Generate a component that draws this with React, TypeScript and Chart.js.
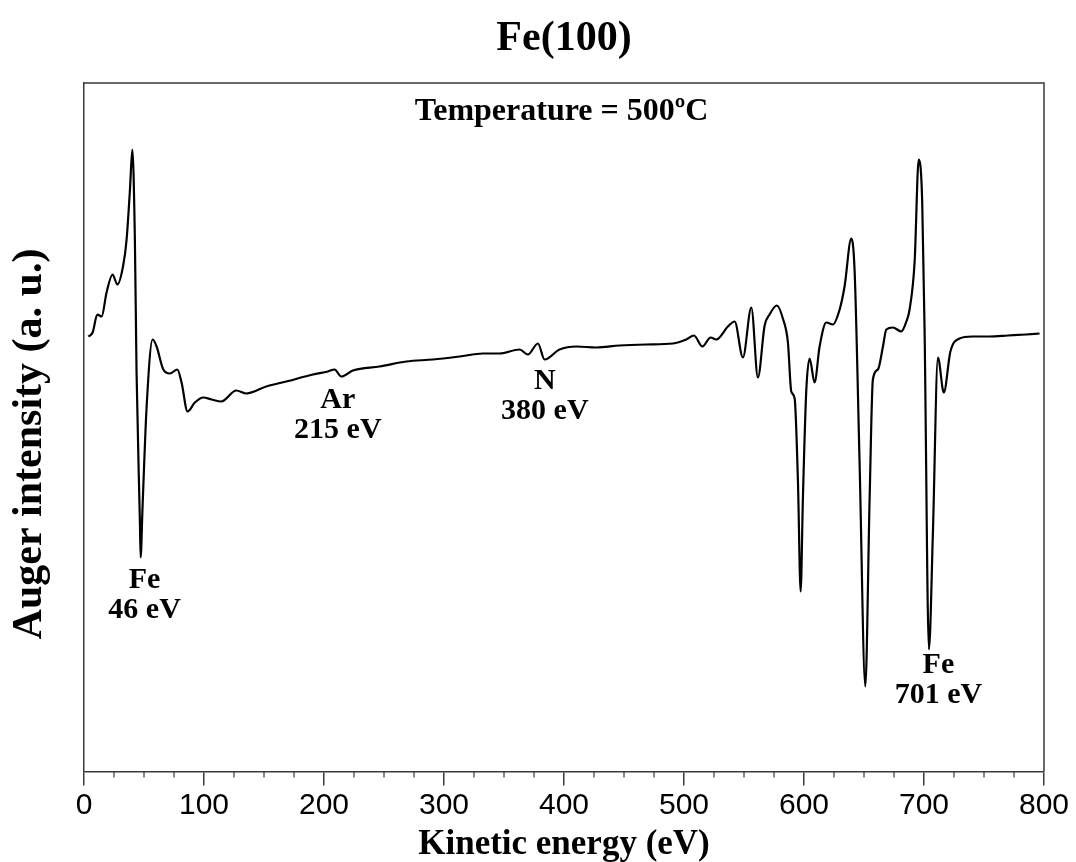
import React, { useEffect, useRef } from "react";
import { Chart, registerables } from "chart.js";

Chart.register(...registerables);

// Kinetic energy (eV) of each sampled point of the Auger spectrum
const energy: number[] = [
  3.6, 7.2, 11.1, 14.7, 18.8, 23.8, 27.8, 32.8, 35.5, 38.3, 40.3, 42.4, 43.8, 46.6, 47.2, 48.8,
  52.2, 57.2, 60.5, 66.1, 71.6, 77.8, 81.3, 86.3, 92.4, 99.4, 106.3, 114.4, 126.9, 135.3,
  151.9, 168.6, 190.8, 203.3, 208.8, 214.4, 224.1, 246.3, 268.6, 290.8, 313, 332.4, 346.3,
  363, 369.9, 378.3, 383.8, 396.3, 410.3, 426.9, 446.3, 468.6, 490.8, 501.9, 508.3, 515.3,
  522.2, 526.9, 536.6, 542.2, 549.1, 556.1, 561.6, 567.2, 571.3, 577.4, 582.4, 586.6, 589.4,
  592.2, 595, 597.2, 599.1, 601.9, 604.7, 608.8, 613, 618.6, 624.1, 629.7, 633.8, 639.4,
  642.2, 646.3, 651.1, 654.7, 657.4, 661.6, 665.8, 668.6, 674.1, 681.1, 685.3, 688, 692.2,
  695.6, 698.5, 700.5, 704.1, 707.4, 711.6, 716.5, 722, 729.7, 740, 754.7, 770, 785, 796.3,
];

// Auger intensity (a. u.) at each energy
const intensity: number[] = [
  4.35, 4.39, 4.57, 4.55, 4.79, 4.97, 4.87, 5.07, 5.32, 5.82, 6.22, 5.32, 3.99, 2.49, 2.14, 2.65,
  3.65, 4.32, 4.25, 4.02, 3.98, 4.02, 3.89, 3.6, 3.69, 3.74, 3.72, 3.7, 3.81, 3.78,
  3.85, 3.9, 3.97, 4.0, 4.02, 3.95, 4.01, 4.05, 4.1, 4.12, 4.15, 4.18, 4.18,
  4.22, 4.17, 4.28, 4.12, 4.22, 4.25, 4.24, 4.26, 4.27, 4.28, 4.32, 4.36, 4.25,
  4.34, 4.32, 4.45, 4.5, 4.14, 4.64, 3.94, 4.46, 4.57, 4.66, 4.53, 4.29, 3.8,
  3.73, 2.88, 1.8, 2.74, 3.81, 4.13, 3.89, 4.25, 4.49, 4.47, 4.62, 4.85, 5.33,
  5.0, 3.1, 0.85, 2.74, 3.92, 4.02, 4.25, 4.42, 4.44, 4.4, 4.5, 4.62, 5.1,
  6.12, 5.7, 4.4, 1.22, 2.38, 4.14, 3.79, 4.2, 4.33, 4.35, 4.35, 4.36, 4.37, 4.38,
];

const xTicks: number[] = [0, 100, 200, 300, 400, 500, 600, 700, 800];
const xMinorTicks: number[] = [25, 50, 75, 125, 150, 175, 225, 250, 275, 325, 350, 375, 425, 450, 475, 525, 550, 575, 625, 650, 675, 725, 750, 775];

const chartTitle = "Fe(100)";
const xTitle = "Kinetic energy (eV)";
const yTitle = "Auger intensity (a. u.)";

// Peak labels: text lines, anchored at (energy, intensity)
const labelTexts: string[] = ["Fe", "46 eV", "Ar", "215 eV", "N", "380 eV", "Fe", "701 eV", "Temperature = 500ºC"];
const labelEnergy: number[] = [50.5, 50.5, 211.5, 211.5, 384, 384, 712, 712, 398];
const labelIntensity: number[] = [1.915, 1.615, 3.715, 3.415, 3.905, 3.605, 1.065, 0.765, 6.595];

const SERIF = '"Liberation Serif", "Times New Roman", Times, serif';
const SANS = '"Liberation Sans", Arial, Helvetica, sans-serif';
const AXIS_COLOR = "#3a3a3a";

const framePlugin = {
  id: "frame",
  afterDraw(chart: any) {
    const { ctx, chartArea, scales } = chart;
    ctx.save();
    ctx.strokeStyle = AXIS_COLOR;
    ctx.lineWidth = 1.5;
    ctx.beginPath();
    ctx.moveTo(chartArea.left, chartArea.top);
    ctx.lineTo(chartArea.right, chartArea.top);
    ctx.lineTo(chartArea.right, chartArea.bottom);
    ctx.stroke();
    // minor ticks
    ctx.lineWidth = 1.2;
    ctx.beginPath();
    for (const v of xMinorTicks) {
      const px = scales.x.getPixelForValue(v);
      ctx.moveTo(px, chartArea.bottom);
      ctx.lineTo(px, chartArea.bottom + 6);
    }
    ctx.stroke();
    ctx.restore();
  },
};

const textPlugin = {
  id: "texts",
  afterDraw(chart: any) {
    const { ctx, scales, chartArea } = chart;
    ctx.save();
    ctx.fillStyle = "#000";
    ctx.textAlign = "center";
    ctx.textBaseline = "middle";
    // chart title, centred over the plot frame
    ctx.font = `bold 42px ${SERIF}`;
    ctx.fillText(chartTitle, (chartArea.left + chartArea.right) / 2, 39);
    // y-axis title
    ctx.save();
    ctx.translate(30, 444);
    ctx.rotate(-Math.PI / 2);
    ctx.font = `bold 42px ${SERIF}`;
    ctx.fillText(yTitle, 0, 0);
    ctx.restore();
    // peak labels
    labelTexts.forEach((t, i) => {
      const size = t.startsWith("Temperature") ? 32 : 30;
      ctx.font = `bold ${size}px ${SERIF}`;
      ctx.fillText(t, scales.x.getPixelForValue(labelEnergy[i]), scales.y.getPixelForValue(labelIntensity[i]));
    });
    ctx.restore();
  },
};

export default function App() {
  const canvasRef = useRef<HTMLCanvasElement | null>(null);

  useEffect(() => {
    document.body.style.margin = "0";
    document.body.style.overflow = "hidden";
    const canvas = canvasRef.current;
    if (!canvas) return;
    const chart = new Chart(canvas, {
      type: "line",
      data: {
        datasets: [
          {
            data: energy.map((e, i) => ({ x: e, y: intensity[i] })),
            borderColor: "#000",
            borderWidth: 2.2,
            pointRadius: 0,
            fill: false,
            cubicInterpolationMode: "monotone",
          },
        ],
      },
      options: {
        animation: false,
        responsive: false,
        maintainAspectRatio: false,
        devicePixelRatio: 1,
        layout: { padding: { left: 0, right: 32, top: 83, bottom: 0 } },
        plugins: {
          legend: { display: false },
          tooltip: { enabled: false },
          title: { display: false },
        },
        scales: {
          x: {
            type: "linear",
            min: 0,
            max: 800,
            afterBuildTicks: (scale: any) => {
              scale.ticks = xTicks.map((v) => ({ value: v }));
            },
            ticks: {
              color: "#000",
              font: { family: SANS, size: 30 },
              padding: 2,
              maxRotation: 0,
              autoSkip: false,
            },
            grid: {
              display: true,
              drawOnChartArea: false,
              drawTicks: true,
              tickLength: 14,
              color: AXIS_COLOR,
              lineWidth: 1.5,
            },
            border: { display: true, color: AXIS_COLOR, width: 1.5 },
            title: {
              display: true,
              text: xTitle,
              color: "#000",
              font: { family: SERIF, size: 35, weight: "bold", lineHeight: 1 },
              padding: 0,
            },
            afterFit: (scale: any) => {
              scale.height = 90.5;
            },
          },
          y: {
            type: "linear",
            min: 0,
            max: 6.885,
            ticks: { display: false },
            grid: { display: false, drawTicks: false },
            border: { display: true, color: AXIS_COLOR, width: 1.5 },
            title: { display: false, text: yTitle },
            afterFit: (scale: any) => {
              scale.width = 84;
            },
          },
        },
      },
      plugins: [framePlugin, textPlugin],
    } as any);
    return () => chart.destroy();
  }, []);

  return (
    <div style={{ width: 1076, height: 862 }}>
      <canvas ref={canvasRef} width={1076} height={862} style={{ display: "block" }} />
    </div>
  );
}
